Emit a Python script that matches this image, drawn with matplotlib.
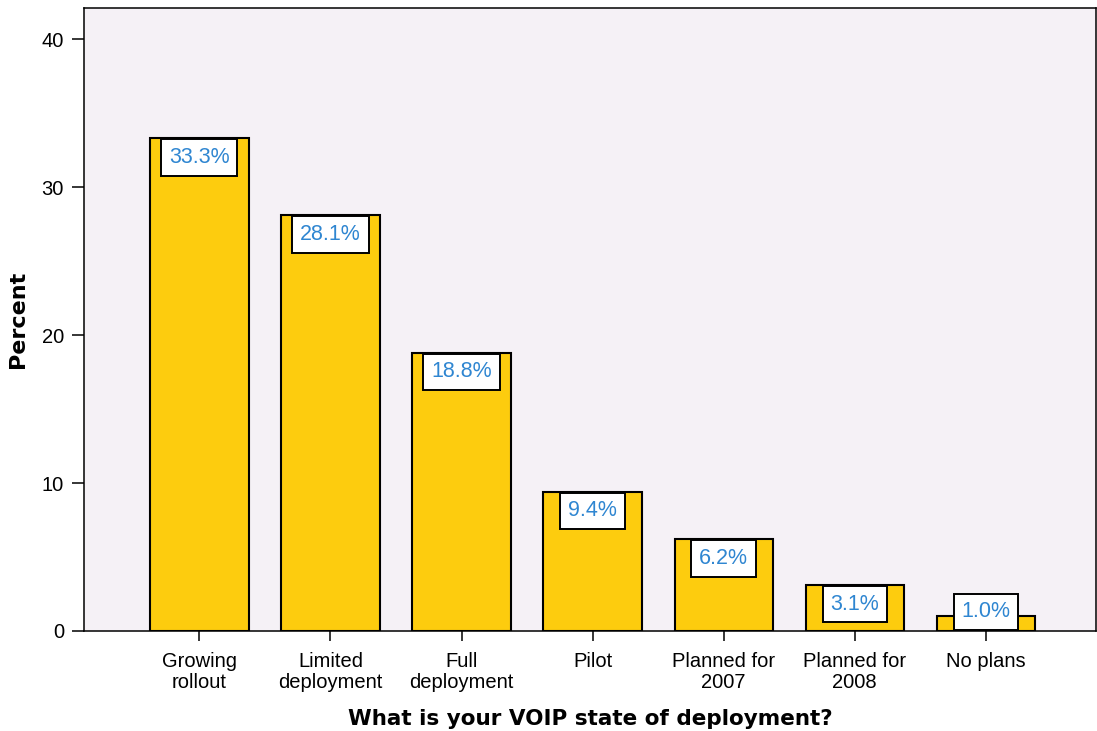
import numpy as np
import matplotlib.pyplot as plt

categories = ["Growing\nrollout", "Limited\ndeployment", "Full\ndeployment", "Pilot",
              "Planned for\n2007", "Planned for\n2008", "No plans"]
percent = [33.3, 28.1, 18.8, 9.4, 6.2, 3.1, 1.0]
labels = ["33.3%", "28.1%", "18.8%", "9.4%", "6.2%", "3.1%", "1.0%"]

plt.rcParams['font.family'] = ['Liberation Sans', 'DejaVu Sans']

fig = plt.figure(figsize=(10.97, 7.31), dpi=100)
ax = fig.add_axes([0.0766, 0.1368, 0.9224, 0.852])
ax.set_facecolor('#F5F1F6')

x = np.arange(len(categories))
ax.bar(x, percent, width=0.75, color='#FDCC0E', edgecolor='black', linewidth=1.5, zorder=2)

# label boxes sit at the top of each bar, or on the axis if the bar is too short
box_h = 2.57
for xi, v, lab in zip(x, percent, labels):
    top = max(v, box_h)
    ax.text(xi, top - box_h / 2, lab, ha='center', va='center', fontsize=15.5,
            color='#2F86D1', zorder=3,
            bbox=dict(boxstyle='square,pad=0.36', facecolor='white', edgecolor='black', linewidth=1.4))

ax.set_xlim(-0.88, 6.84)
ax.set_ylim(0, 42.1)
ax.set_yticks([0, 10, 20, 30, 40])
ax.set_xticks(x)
ax.set_xticklabels(categories, fontsize=14.5, linespacing=1.15)
ax.tick_params(axis='y', labelsize=14.5, length=8.5, width=1.1, pad=6)
ax.tick_params(axis='x', length=7, width=1.1, pad=8)
for s in ax.spines.values():
    s.set_linewidth(1.1)

ax.set_ylabel("Percent", fontsize=16, fontweight='bold', family='DejaVu Sans', labelpad=10)
ax.set_xlabel("What is your VOIP state of deployment?", fontsize=15.5, fontweight='bold',
              family='DejaVu Sans', labelpad=12)

fig.savefig('out.png', dpi=100)
